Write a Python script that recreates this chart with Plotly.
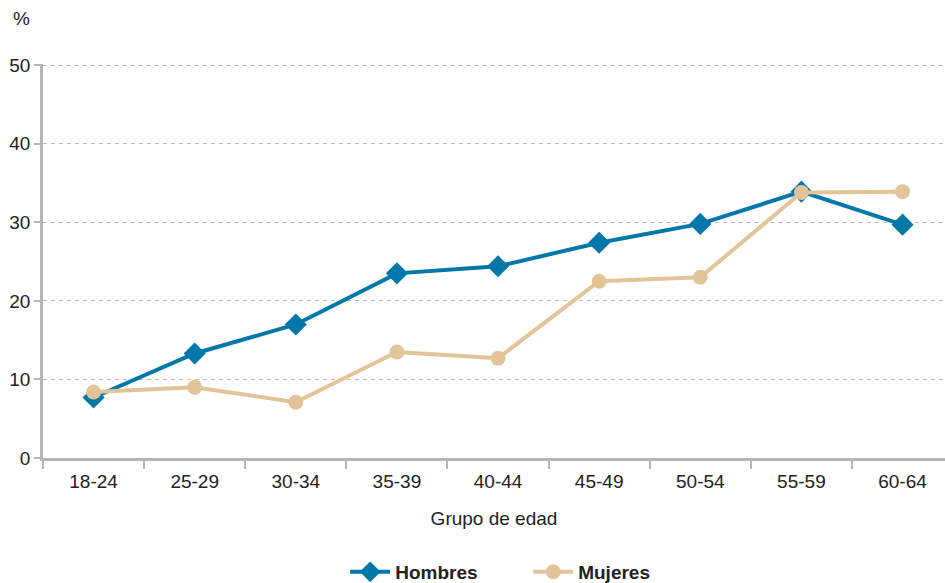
import plotly.graph_objects as go

grupos = ["18-24", "25-29", "30-34", "35-39", "40-44", "45-49", "50-54", "55-59", "60-64"]
hombres = [7.7, 13.3, 17.0, 23.5, 24.4, 27.4, 29.8, 33.9, 29.7]
mujeres = [8.4, 9.0, 7.1, 13.5, 12.7, 22.5, 23.0, 33.8, 33.9]
y_ticks = [0, 10, 20, 30, 40, 50]

AZUL = "#0077a9"
ARENA = "#e3c499"
GRIS = "#b5b5b5"
FUENTE = "Liberation Sans, Arial, Helvetica, sans-serif"

fig = go.Figure()
fig.add_trace(go.Scatter(
    x=grupos, y=hombres, name="Hombres", mode="lines+markers",
    line=dict(color=AZUL, width=4),
    marker=dict(symbol="diamond", size=17, color=AZUL),
))
fig.add_trace(go.Scatter(
    x=grupos, y=mujeres, name="Mujeres", mode="lines+markers",
    line=dict(color=ARENA, width=4),
    marker=dict(symbol="circle", size=15, color=ARENA),
))

fig.update_layout(
    width=945, height=583,
    margin=dict(l=43, r=0, t=64, b=125, autoexpand=False),
    paper_bgcolor="white", plot_bgcolor="white",
    font=dict(family=FUENTE, size=19, color="#222222"),
    showlegend=True,
    legend=dict(
        orientation="h", x=0.335, xanchor="left", y=-0.241, yanchor="top",
        font=dict(size=19, color="#222222", weight="bold"),
        itemwidth=40, entrywidth=128, entrywidthmode="pixels",
    ),
    xaxis=dict(
        type="category", range=[-0.5, 8.42], automargin=False,
        showline=True, linecolor=GRIS, linewidth=2.5,
        ticks="outside", tickson="boundaries", ticklen=8, tickwidth=2,
        tickcolor=GRIS, showgrid=False, zeroline=False,
        tickfont=dict(size=19), ticklabelstandoff=4,
        title=dict(text="Grupo de edad", font=dict(size=19), standoff=22),
    ),
    yaxis=dict(
        range=[0, 50.15], tickvals=y_ticks, automargin=False,
        showline=True, linecolor=GRIS, linewidth=2.5,
        ticks="outside", ticklen=6, tickwidth=2, tickcolor=GRIS,
        showgrid=True, gridcolor="#bdbdbd", griddash="4px,4px", gridwidth=1.3,
        zeroline=False, tickfont=dict(size=19),
    ),
    annotations=[dict(
        text="%", xref="paper", yref="paper", x=-0.036, y=1.085,
        xanchor="left", yanchor="bottom", showarrow=False,
        font=dict(size=19, color="#222222"),
    )],
)

fig.write_html("out.html")
